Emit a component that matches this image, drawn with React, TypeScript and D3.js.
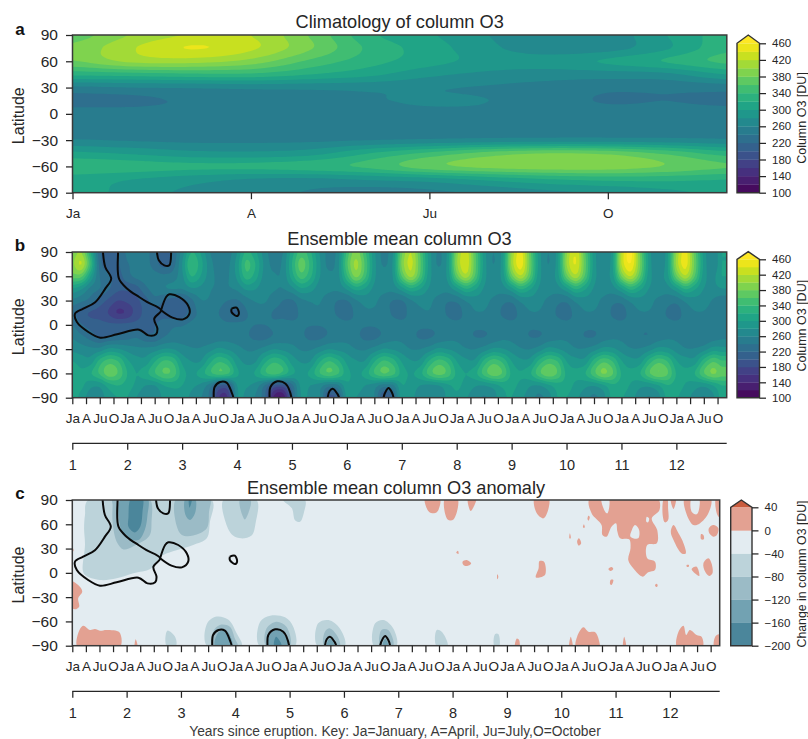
import { useEffect, useRef } from 'react';
import * as d3 from 'd3';

const FONT = '"Liberation Sans", Arial, sans-serif';
const INK = '#262626';

const latRows = [90, 75, 60, 45, 30, 15, 0, -15, -30, -45, -60, -75, -90];
const latTicks = [90, 60, 30, 0, -30, -60, -90];
const monthKeys = ['Ja', 'A', 'Ju', 'O'];
const yearLabels = [1, 2, 3, 4, 5, 6, 7, 8, 9, 10, 11, 12];

const ozoneLevels = d3.range(100, 460, 20);
const ozoneTicks = d3.range(100, 461, 40);
const anomalyTicks = [-200, -160, -120, -80, -40, 0, 40];
const anomalyColors = ['#4b869b', '#72a2b2', '#9bbbc6', '#bcd3da', '#e3ecf1', '#e3a192'];
const anomalyOver = '#c95c3e';

// climatology, one row per latitude, Jan..Dec (DU)
const climatology = [
  [370, 402, 422, 420, 378, 325, 303, 280, 265, 268, 300, 330],
  [385, 418, 441, 424, 382, 335, 310, 285, 268, 272, 298, 335],
  [378, 405, 408, 392, 355, 328, 308, 292, 290, 303, 322, 345],
  [325, 330, 335, 335, 320, 305, 285, 275, 270, 270, 275, 300],
  [255, 260, 262, 265, 265, 265, 262, 258, 252, 245, 245, 248],
  [232, 234, 244, 246, 250, 258, 262, 260, 250, 238, 240, 235],
  [250, 250, 250, 250, 252, 255, 256, 256, 254, 250, 250, 250],
  [246, 245, 244, 244, 245, 246, 248, 248, 248, 246, 246, 246],
  [262, 258, 255, 255, 256, 260, 264, 268, 270, 270, 268, 264],
  [305, 297, 287, 285, 292, 320, 345, 368, 380, 375, 355, 330],
  [335, 330, 325, 325, 332, 345, 372, 386, 392, 391, 378, 362],
  [310, 300, 288, 278, 275, 282, 290, 305, 318, 325, 325, 320],
  [310, 292, 275, 268, 258, 250, 255, 265, 275, 283, 295, 305],
];

// ensemble mean, one row per latitude, one value every 2 months (six per year)
const ensembleMean = [
  [385,400,320,225,212,218, 245,255,250,225,212,225, 270,320,300,262,245,250, 280,325,305,270,250,260, 310,350,325,280,255,268, 345,390,345,285,255,278, 375,420,360,290,258,285, 390,432,365,290,260,290, 400,448,370,290,260,290, 395,438,365,290,262,292, 420,468,380,292,262,292, 400,448,370,292,262,300],
  [395,420,340,232,208,218, 238,245,248,230,213,230, 280,340,310,270,250,255, 290,345,320,275,255,265, 320,370,335,285,255,272, 355,405,355,288,258,282, 385,425,365,292,258,288, 395,435,368,292,260,292, 405,450,375,292,260,292, 400,440,370,292,262,295, 420,458,385,295,262,295, 405,448,375,295,262,300],
  [370,365,300,240,224,212, 232,245,250,248,245,250, 275,320,300,270,255,258, 285,330,310,272,262,265, 310,350,325,282,265,272, 335,385,345,285,268,280, 360,405,355,288,270,285, 368,410,358,288,272,288, 372,415,362,288,272,290, 370,412,358,288,275,290, 380,420,365,290,275,292, 372,415,360,290,275,300],
  [300,285,255,240,222,205, 205,212,235,250,258,262, 262,278,275,262,258,258, 265,285,282,265,262,260, 275,298,290,270,265,265, 285,310,298,275,268,268, 292,318,302,278,270,270, 295,322,305,278,272,272, 295,325,305,278,272,272, 295,325,305,278,272,272, 298,328,308,280,275,272, 295,325,305,280,275,280],
  [255,245,232,212,195,180, 185,195,212,232,220,210, 212,235,258,258,250,240, 238,252,262,262,252,240, 238,255,262,262,250,240, 240,258,268,265,250,240, 240,258,268,265,252,242, 245,262,270,268,255,245, 245,265,272,268,255,245, 245,265,272,268,255,245, 248,265,272,268,255,248, 248,265,272,270,258,248],
  [228,208,198,192,178,158, 165,190,205,212,212,205, 208,230,245,248,240,222, 219,238,248,250,238,235, 230,245,252,255,245,238, 230,245,255,255,248,238, 232,248,255,258,248,238, 230,248,258,258,248,238, 230,248,258,258,248,238, 230,248,258,258,250,238, 230,250,258,258,250,238, 230,250,258,258,250,245],
  [240,222,212,208,205,205, 206,208,210,219,230,236, 238,245,248,248,248,245, 245,243,240,240,243,246, 246,243,241,241,243,246, 246,244,242,242,245,247, 247,245,244,244,245,247, 247,245,244,245,246,247, 247,246,244,245,246,247, 247,246,245,245,246,247, 247,246,245,245,246,247, 247,246,245,245,247,250],
  [258,245,232,219,223,228, 232,238,227,226,240,248, 250,252,250,248,250,252, 248,243,236,235,243,250, 250,244,236,236,244,252, 252,245,236,236,245,254, 254,246,238,238,246,254, 254,246,240,240,247,255, 254,247,240,240,248,255, 255,248,240,240,250,256, 255,248,242,242,250,256, 255,248,243,243,250,256],
  [275,270,265,268,285,282, 272,265,265,270,282,280, 268,262,262,272,285,278, 268,258,258,268,280,275, 268,258,258,268,280,275, 270,260,258,268,282,278, 270,260,260,270,285,280, 272,262,260,270,285,282, 272,262,260,270,288,282, 272,262,262,272,288,285, 272,262,262,272,288,285, 272,262,262,272,290,288],
  [300,290,290,328,350,340, 305,290,288,318,343,335, 295,280,280,313,337,325, 290,275,278,313,335,323, 292,278,280,316,340,325, 295,282,282,318,343,330, 298,282,285,323,347,335, 300,285,285,326,350,335, 300,285,288,326,350,340, 300,288,288,328,355,340, 302,288,290,328,353,340, 302,290,290,330,357,343],
  [320,305,318,343,372,358, 320,300,313,338,360,353, 310,295,308,333,352,343, 305,290,303,333,350,333, 305,292,306,338,358,343, 308,295,308,340,360,348, 312,298,313,348,368,353, 315,300,313,348,372,358, 315,302,316,353,375,358, 315,305,318,353,382,363, 318,305,318,356,378,363, 318,305,320,358,382,368],
  [315,305,285,285,310,320, 310,295,280,280,300,305, 300,285,275,250,205,205, 280,282,272,240,198,192, 232,285,280,270,248,255, 295,290,280,270,250,255, 298,290,280,275,280,295, 305,292,282,280,290,305, 305,295,282,280,295,310, 310,295,285,282,295,315, 310,298,285,285,298,318, 310,298,288,285,300,320],
  [315,290,270,270,290,300, 300,280,265,265,285,295, 290,275,262,235,160,160, 275,275,258,225,135,122, 215,280,275,265,195,210, 285,280,270,260,200,215, 290,285,270,262,262,285, 295,282,270,258,270,295, 300,285,270,255,270,300, 300,285,270,255,272,305, 302,288,270,258,272,305, 302,288,272,258,275,308],
];

// 220 DU line, [month since start, latitude]
const dobson220Lines: [number, number][][] = [
  [[6.7,94],[6.7,90],[7.2,71.5],[8.5,57],[7.2,44.7],[5,28],[2.4,20],[0.6,13.8],[1,3.5],[3.5,-8.8],[6.1,-15.8],[9.8,-11.7],[14.6,-6],[16.6,-13],[18.3,-11.7],[18.6,-4.7],[17.9,7.6],[19.4,18],[16.4,28],[14.6,34.4],[12,44.7],[10.2,57],[10,90],[10,94]],
  [[19.4,18],[20.5,34.4],[21.2,37.7],[23.4,34.4],[25.3,24],[25.6,13.8],[24.2,6.8],[21.9,8.9],[19.4,18]],
  [[18.5,94],[18.5,90],[18.9,79.7],[20.1,73.5],[21.2,73.5],[21.6,90],[21.6,94]],
  [[34.8,20],[35.9,21.2],[36.4,13.8],[35.9,10.9],[34.8,15.9],[34.8,20]],
  [[30.9,-94],[30.9,-90],[31.1,-76.8],[32.3,-70.6],[33.7,-71.4],[34.8,-83],[35.2,-90],[35.2,-94]],
  [[43.1,-94],[43.1,-90],[43.3,-76.8],[44.8,-69.8],[46.6,-72.7],[47.9,-90],[47.9,-94]],
  [[55.8,-94],[55.8,-90],[56.2,-82],[56.9,-78.9],[57.9,-85],[58.3,-90],[58.3,-94]],
  [[68,-94],[68,-90],[68.6,-81],[69.1,-78],[69.8,-83],[70.2,-90],[70.2,-94]],
];

// anomaly field outlines, [month since start, latitude]
const anomalyBelow40: [number, number][][] = [
  [[3.5,90],[2.8,71.5],[2.6,55],[2.8,34.4],[2.3,3.5],[2.8,-2.7],[6.1,-8.8],[9.8,-6.8],[13.5,-0.6],[17.2,4.7],[18.3,11.7],[20.1,22],[23,28],[26.7,34.4],[29.7,42.6],[30.4,63],[30.8,90]],
  [[33.4,90],[33.9,62],[35.5,46],[37.3,42.6],[39.6,46],[40.5,62],[40.7,90]],
  [[46.6,90],[48.5,79.7],[49.2,65],[50.3,63],[51.2,75.5],[51.4,90]],
  [[20.8,-90],[21,-71.4],[22.7,-79],[22.9,-90]],
  [[29.7,-90],[29.8,-62.4],[31.9,-54],[34.5,-58],[36.3,-74.7],[37.4,-90]],
  [[41.3,-90],[41.5,-60.3],[43.7,-53],[47,-55],[48.8,-66.5],[49.2,-90]],
  [[54.1,-90],[54.3,-62.4],[56.6,-58.3],[59.1,-68.6],[60.2,-90]],
  [[66.6,-90],[66.9,-62.4],[68.7,-58.3],[70.9,-68.6],[71.6,-90]],
  [[80.4,-90],[80.5,-70.6],[81.6,-72.7],[82.9,-90]],
  [[93.2,-90],[93.4,-75.6],[94.1,-75.6],[94.3,-90]],
];
const anomalyBelow80: [number, number][][] = [
  [[8.9,92],[8.9,84],[8.9,63],[9.8,38.5],[11.3,29],[13.5,33],[17,45.4],[17.5,63],[17,92]],
  [[23,92],[23,59],[24.2,46.8],[26.7,46],[29.7,55],[30.2,75.5],[30.4,92]],
  [[37,90],[38.1,66],[39.4,90]],
  [[31,-90],[31.1,-72.7],[32.6,-64.4],[34.8,-66.5],[35.9,-81],[36.5,-90]],
  [[42.8,-90],[42.9,-68.6],[45.1,-60.3],[47.3,-66.5],[48.1,-90]],
  [[55.6,-90],[55.8,-72.7],[56.9,-68.6],[58.4,-76.8],[59.1,-90]],
  [[68,-90],[68.3,-70.6],[69.8,-70.6],[70.9,-90]],
];
const anomalyBelow120: [number, number][][] = [
  [[10.8,92],[10.5,59],[11.6,44.7],[14.6,40.6],[16,53],[16.6,71.5],[16.6,92]],
  [[25,92],[25,71.5],[26,65.3],[27.1,73.5],[27.1,92]],
  [[31.5,-90],[32.3,-73.5],[33.7,-70.6],[34.8,-76.8],[35.3,-90]],
  [[43.3,-90],[44,-72.7],[45.5,-70],[47,-77],[47.5,-90]],
  [[56.2,-90],[56.9,-81],[57.9,-90]],
  [[68.6,-90],[69.1,-81],[69.8,-90]],
];
const anomalyBelow160: [number, number][][] = [
  [[13,92],[12.4,68],[12.4,57],[13.8,50],[15,57],[15.5,75.5],[15.5,92]],
  [[25.8,92],[25.9,80.5],[26.4,92]],
  [[44.6,-90],[45,-79],[45.7,-83],[46.2,-90]],
];
const anomalyAbove0: [number, number][][] = [
  [[-0.5,-10],[1.3,-15],[2.2,-23],[1.3,-31.5],[1.5,-41.8],[0.6,-45],[-0.5,-41]],
  [[-0.3,33],[0.3,28],[-0.3,24]],
  [[1.2,-92],[1.3,-74.7],[2.4,-65.3],[3.9,-70.6],[5,-69.5],[6.1,-71.4],[7.6,-70.5],[10.4,-73.5],[10.5,-92]],
  [[13.8,-92],[14,-82],[14.4,-92]],
  [[77.9,92],[78.9,74.8],[80.5,74.8],[81.2,92]],
  [[82.3,92],[82.9,66],[84.2,66],[85.1,92]],
  [[87.4,92],[88,76.4],[89.2,92]],
  [[102.1,92],[102.6,73.5],[104.1,67.3],[105.2,79.7],[105.2,92]],
  [[103.2,14.6],[104.2,13.8],[104.4,-2.7],[102.4,-5.6],[103,5.6]],
  [[86.2,13.8],[87.1,15.9],[88.1,11.7],[87.1,8.4],[86.4,9.7]],
  [[84.8,25],[85.2,27.4],[85.3,23.3]],
  [[93.9,-1.8],[94.1,-4.7],[93.9,-8],[93.8,-4.7]],
  [[114.3,92],[114.7,73.5],[116.9,59],[117.1,46.8],[118,44.7],[119.1,57],[120.1,61.2],[120.4,51],[121,42.6],[123,41.4],[123.3,30.3],[122.8,15.9],[123.9,5.6],[126,-4.7],[127.2,0.6],[128.7,3.5],[128.7,13.8],[127,17.9],[127,34.4],[129.1,36.5],[129.2,52.9],[128,67.3],[129.7,77.6],[129.3,92]],
  [[130.7,92],[130.4,71.5],[130.9,62.4],[131.6,65.3],[131.6,79.7],[131.4,92]],
  [[132.2,92],[132.8,78.9],[133.3,92]],
  [[135.3,92],[135.5,75.6],[137.2,59],[138.6,61],[140.5,73.5],[141,92]],
  [[142.2,92],[142.5,71.5],[143.5,66.5],[143.5,92]],
  [[140.6,55],[141.6,59],[142.7,55],[142.3,46],[141.6,44.7],[140.7,48.8]],
  [[132.8,59],[132.2,50.9],[132.8,40.6],[134.6,24],[135.5,24],[135,36.7],[133.9,48.8]],
  [[138.9,48],[139.4,46.8],[139.5,41.4],[138.9,41.4]],
  [[140.5,18],[141.2,11.7],[141.4,-0.6],[140.7,-3.9],[139.8,1.4],[139.4,11.7]],
  [[136.8,4.7],[137.9,7.6],[138.5,-3.9],[137.5,-0.6]],
  [[135.7,9.7],[136.2,9.7],[136.1,7.2],[135.7,7.9]],
  [[118.4,4.7],[119.1,7.2],[119.5,4.7],[118.9,2.3]],
  [[118.9,-8.8],[119.5,-8.8],[119.1,-15],[118.8,-14.2]],
  [[128.7,-15],[129.1,-13.4],[129.3,-15.8],[129,-17.5]],
  [[111.9,42.6],[112.4,36.5],[111.9,33.6],[111.5,38.5]],
  [[109.9,48.8],[110.1,42.6],[109.8,42.6]],
  [[113,60],[113.2,56],[112.8,56]],
  [[114,70.6],[114.3,69],[114,64.5],[113.8,66.5]],
  [[109.8,-92],[110.1,-78.9],[110.5,-92]],
  [[111.3,-92],[111.5,-78.9],[112.9,-67.3],[114,-72.7],[115.5,-73.5],[116.4,-85],[116.4,-92]],
  [[121.7,-92],[121.9,-78.9],[122.3,-92]],
  [[133.6,-92],[133.9,-72.7],[135,-65.3],[135.6,-76.8],[136.4,-70.6],[137.9,-76.8],[139,-78.9],[139.2,-92]],
  [[141.8,-92],[142,-78.9],[142.8,-76],[143.5,-78],[143.5,-92]],
  [[97.8,-92],[98.2,-81],[98.7,-83],[98.7,-92]],
];
// gaps inside the positive patches, back to the -40..0 band
const anomalyGaps: [number, number][][] = [
  [[123.3,44.7],[125,42.6],[125.2,52.9],[124.3,59],[123.6,53]],
  [[116.9,92],[117.7,75.6],[118.2,73.5],[118.5,92]],
  [[126.9,69.4],[127.4,67.3],[127.2,62.4],[126.8,63.2]],
  [[136.8,92],[136.8,75.6],[137.9,72.3],[138.4,77.6],[138.4,92]],
];

type Box = { left: number; right: number; top: number; bottom: number; lastMonth: number };

// smooth lookup between the read grid points, same job contourf's fine mesh does
function catmull(a: number, b: number, c: number, d: number, t: number) {
  return 0.5 * (2 * b + (c - a) * t + (2 * a - 5 * b + 4 * c - d) * t * t + (3 * b - a - 3 * c + d) * t * t * t);
}
function sampleGrid(grid: number[][], monthStep: number, lastMonth: number, fine: number) {
  const nRow = grid.length;
  const nCol = grid[0].length;
  const clampR = (i: number) => Math.max(0, Math.min(nRow - 1, i));
  const clampC = (i: number) => Math.max(0, Math.min(nCol - 1, i));
  const dm = monthStep / fine;
  const dl = 180 / (latRows.length - 1) / fine;
  const nx = Math.ceil(lastMonth / dm) + 2;
  const ny = (nRow - 1) * fine + 1;
  const values = new Array(nx * ny);
  for (let j = 0; j < ny; j++) {
    const rf = j / fine;
    const r = Math.min(Math.floor(rf), nRow - 2);
    const tr = rf - r;
    for (let i = 0; i < nx; i++) {
      const cf = Math.min((i * dm) / monthStep, nCol - 1);
      const c = Math.min(Math.floor(cf), nCol - 2);
      const tc = cf - c;
      const col = [c - 1, c, c + 1, c + 2].map((k) => {
        const ci = clampC(k);
        return catmull(grid[clampR(r - 1)][ci], grid[r][ci], grid[clampR(r + 1)][ci], grid[clampR(r + 2)][ci], tr);
      });
      values[i + j * nx] = catmull(col[0], col[1], col[2], col[3], tc);
    }
  }
  return { values, nx, ny, dm, dl };
}

export default function App() {
  const svgRef = useRef<SVGSVGElement | null>(null);

  useEffect(() => {
    const svg = d3.select(svgRef.current);
    svg.selectAll('*').remove();
    svg.attr('font-family', FONT);

    const ozoneColor = (level: number) => d3.interpolateViridis((level - 100 + 10) / 360);

    const addFrame = (name: string, box: Box) => {
      const x = d3.scaleLinear().domain([0, box.lastMonth]).range([box.left, box.right]);
      const y = d3.scaleLinear().domain([90, -90]).range([box.top, box.bottom]);
      svg.append('clipPath').attr('id', `clip-${name}`)
        .append('rect')
        .attr('x', box.left).attr('y', box.top)
        .attr('width', box.right - box.left).attr('height', box.bottom - box.top);
      const plot = svg.append('g').attr('clip-path', `url(#clip-${name})`);
      return { x, y, plot };
    };

    const styleAxis = (g: any, size: number) => {
      g.attr('font-size', size).attr('font-family', FONT).attr('color', INK);
      g.selectAll('.tick line').attr('stroke-width', 1.25);
    };

    const addAxes = (frame: any, box: Box, title: string, titleY: number, letter: string, letterY: number, latY: number) => {
      svg.append('rect')
        .attr('x', box.left).attr('y', box.top)
        .attr('width', box.right - box.left).attr('height', box.bottom - box.top)
        .attr('fill', 'none').attr('stroke', '#3a3a3a').attr('stroke-width', 1.5);
      const yAxis = svg.append('g').attr('transform', `translate(${box.left},0)`)
        .call(d3.axisLeft(frame.y).tickValues(latTicks).tickSize(6.5).tickPadding(8));
      yAxis.select('.domain').remove();
      styleAxis(yAxis, 15.5);
      svg.append('text').attr('x', (box.left + box.right) / 2).attr('y', titleY)
        .attr('text-anchor', 'middle').attr('font-size', 18.2).attr('fill', INK).text(title);
      svg.append('text').attr('x', 20).attr('y', letterY).attr('text-anchor', 'middle')
        .attr('font-size', 17).attr('font-weight', 700).attr('fill', '#111').text(letter);
      svg.append('text').attr('transform', `translate(23.5,${latY}) rotate(-90)`)
        .attr('text-anchor', 'middle').attr('font-size', 16).attr('fill', INK).text('Latitude');
    };

    const addTimeAxes = (frame: any, box: Box, yearY: number) => {
      const months = d3.range(0, box.lastMonth, 3);
      const monthAxis = svg.append('g').attr('transform', `translate(0,${box.bottom})`)
        .call(d3.axisBottom(frame.x).tickValues(months).tickSize(6.5).tickPadding(9.5)
          .tickFormat((d: any) => monthKeys[(d / 3) % 4]));
      monthAxis.select('.domain').remove();
      styleAxis(monthAxis, 13.5);
      const yearAxis = svg.append('g').attr('transform', `translate(0,${yearY})`)
        .call(d3.axisBottom(frame.x).tickValues(yearLabels.map((v) => (v - 1) * 12)).tickSize(6.5).tickSizeOuter(0).tickPadding(10)
          .tickFormat((d: any) => String(d / 12 + 1)));
      styleAxis(yearAxis, 14.5);
      yearAxis.select('.domain').attr('d', `M${box.left},0H${box.right}`).attr('stroke-width', 1.25);
    };

    const drawField = (frame: any, grid: number[][], monthStep: number, box: Box, fine: number) => {
      const { values, nx, ny, dm, dl } = sampleGrid(grid, monthStep, box.lastMonth, fine);
      const contours = d3.contours().size([nx, ny]).thresholds(ozoneLevels.concat(460))(values);
      const path = d3.geoPath(d3.geoTransform({
        point(px: number, py: number) {
          (this as any).stream.point(frame.x((px - 0.5) * dm), frame.y(90 - (py - 0.5) * dl));
        },
      }));
      frame.plot.append('rect')
        .attr('x', box.left).attr('y', box.top)
        .attr('width', box.right - box.left).attr('height', box.bottom - box.top)
        .attr('fill', ozoneColor(100));
      frame.plot.selectAll('path.band').data(contours).join('path')
        .attr('class', 'band')
        .attr('d', path as any)
        .attr('fill', (d: any) => (d.value >= 460 ? '#fde725' : ozoneColor(d.value)));
    };

    const drawLines = (frame: any) => {
      const line = d3.line<[number, number]>()
        .x((d) => frame.x(d[0])).y((d) => frame.y(d[1]))
        .curve(d3.curveCatmullRom.alpha(0.5));
      frame.plot.selectAll('path.dobson').data(dobson220Lines).join('path')
        .attr('class', 'dobson')
        .attr('d', (d: any) => line(d))
        .attr('fill', 'none').attr('stroke', '#0a0a0a').attr('stroke-width', 2);
    };

    const addColorbar = (cfg: {
      x0: number; x1: number; top: number; zero: number; tipY: number; lo: number; hi: number;
      edges: number[]; colors: string[]; over: string; ticks: number[]; label: string; labelY: number; labelSize: number;
    }) => {
      const scale = d3.scaleLinear().domain([cfg.lo, cfg.hi]).range([cfg.zero, cfg.top]);
      cfg.colors.forEach((color, i) => {
        svg.append('rect').attr('x', cfg.x0).attr('width', cfg.x1 - cfg.x0)
          .attr('y', scale(cfg.edges[i + 1])).attr('height', scale(cfg.edges[i]) - scale(cfg.edges[i + 1]) + 0.3)
          .attr('fill', color);
      });
      const mid = (cfg.x0 + cfg.x1) / 2;
      const arrow = `M${cfg.x0},${cfg.top}L${mid},${cfg.tipY}L${cfg.x1},${cfg.top}Z`;
      svg.append('path').attr('d', arrow).attr('fill', cfg.over);
      svg.append('path')
        .attr('d', `M${cfg.x0},${cfg.zero}L${cfg.x0},${cfg.top}L${mid},${cfg.tipY}L${cfg.x1},${cfg.top}L${cfg.x1},${cfg.zero}Z`)
        .attr('fill', 'none').attr('stroke', '#333').attr('stroke-width', 1.4);
      const axis = svg.append('g').attr('transform', `translate(${cfg.x1},0)`)
        .call(d3.axisRight(scale).tickValues(cfg.ticks).tickSize(6.5).tickPadding(6));
      axis.select('.domain').remove();
      styleAxis(axis, 11.5);
      svg.append('text').attr('transform', `translate(806,${cfg.labelY}) rotate(-90)`)
        .attr('text-anchor', 'middle').attr('font-size', cfg.labelSize).attr('fill', INK).text(cfg.label);
    };

    const ozoneBar = (top: number, bottom: number, tipY: number, labelY: number) => addColorbar({
      x0: 737, x1: 759.5, top, zero: bottom, tipY, lo: 100, hi: 460,
      edges: ozoneLevels.concat(460), colors: ozoneLevels.map(ozoneColor), over: '#fde725',
      ticks: ozoneTicks, label: 'Column O3 [DU]', labelY, labelSize: 12.5,
    });

    // panel a
    const boxA: Box = { left: 72.5, right: 726.8, top: 35, bottom: 192.7, lastMonth: 11 };
    const frameA = addFrame('a', boxA);
    drawField(frameA, climatology, 1, boxA, 10);
    addAxes(frameA, boxA, 'Climatology of column O3', 28, 'a', 35, 115.7);
    const axisA = svg.append('g').attr('transform', `translate(0,${boxA.bottom})`)
      .call(d3.axisBottom(frameA.x).tickValues([0, 3, 6, 9]).tickSize(6.5).tickPadding(9)
        .tickFormat((d: any) => monthKeys[d / 3]));
    axisA.select('.domain').remove();
    styleAxis(axisA, 13.5);
    ozoneBar(43.3, 192.7, 35, 118);

    // panel b
    const boxB: Box = { left: 72.3, right: 726.7, top: 252, bottom: 397.7, lastMonth: 143 };
    const frameB = addFrame('b', boxB);
    drawField(frameB, ensembleMean, 2, boxB, 5);
    drawLines(frameB);
    addAxes(frameB, boxB, 'Ensemble mean column O3', 245, 'b', 251, 326.7);
    addTimeAxes(frameB, boxB, 443.3);
    ozoneBar(259.3, 397.7, 251.7, 325.7);

    // panel c
    const boxC: Box = { left: 72.3, right: 719.7, top: 500, bottom: 645.7, lastMonth: 143 };
    const frameC = addFrame('c', boxC);
    const blob = d3.line<[number, number]>()
      .x((d) => frameC.x(d[0])).y((d) => frameC.y(d[1]))
      .curve(d3.curveCatmullRomClosed.alpha(0.5));
    frameC.plot.append('rect')
      .attr('x', boxC.left).attr('y', boxC.top)
      .attr('width', boxC.right - boxC.left).attr('height', boxC.bottom - boxC.top)
      .attr('fill', anomalyColors[4]);
    const layers: [[number, number][][], string][] = [
      [anomalyBelow40, anomalyColors[3]],
      [anomalyBelow80, anomalyColors[2]],
      [anomalyBelow120, anomalyColors[1]],
      [anomalyBelow160, anomalyColors[0]],
      [anomalyAbove0, anomalyColors[5]],
      [anomalyGaps, anomalyColors[4]],
    ];
    layers.forEach(([shapes, color]) => {
      shapes.forEach((shape) => {
        frameC.plot.append('path').attr('d', blob(shape)).attr('fill', color);
      });
    });
    drawLines(frameC);
    addAxes(frameC, boxC, 'Ensemble mean column O3 anomaly', 494, 'c', 499, 575);
    addTimeAxes(frameC, boxC, 691.3);
    addColorbar({
      x0: 730.7, x1: 752, top: 507.3, zero: 645.7, tipY: 500, lo: -200, hi: 40,
      edges: anomalyTicks, colors: anomalyColors, over: anomalyOver,
      ticks: anomalyTicks, label: 'Change in column O3 [DU]', labelY: 574, labelSize: 12.3,
    });
    svg.append('text').attr('x', 395).attr('y', 736).attr('text-anchor', 'middle')
      .attr('font-size', 13.8).attr('fill', '#3a3a3a')
      .text('Years since eruption. Key: Ja=January, A=April, Ju=July,O=October');
  }, []);

  return (
    <svg
      ref={svgRef}
      width={808}
      height={739}
      style={{ position: 'absolute', left: 0, top: 0, display: 'block', background: '#fff' }}
    />
  );
}
